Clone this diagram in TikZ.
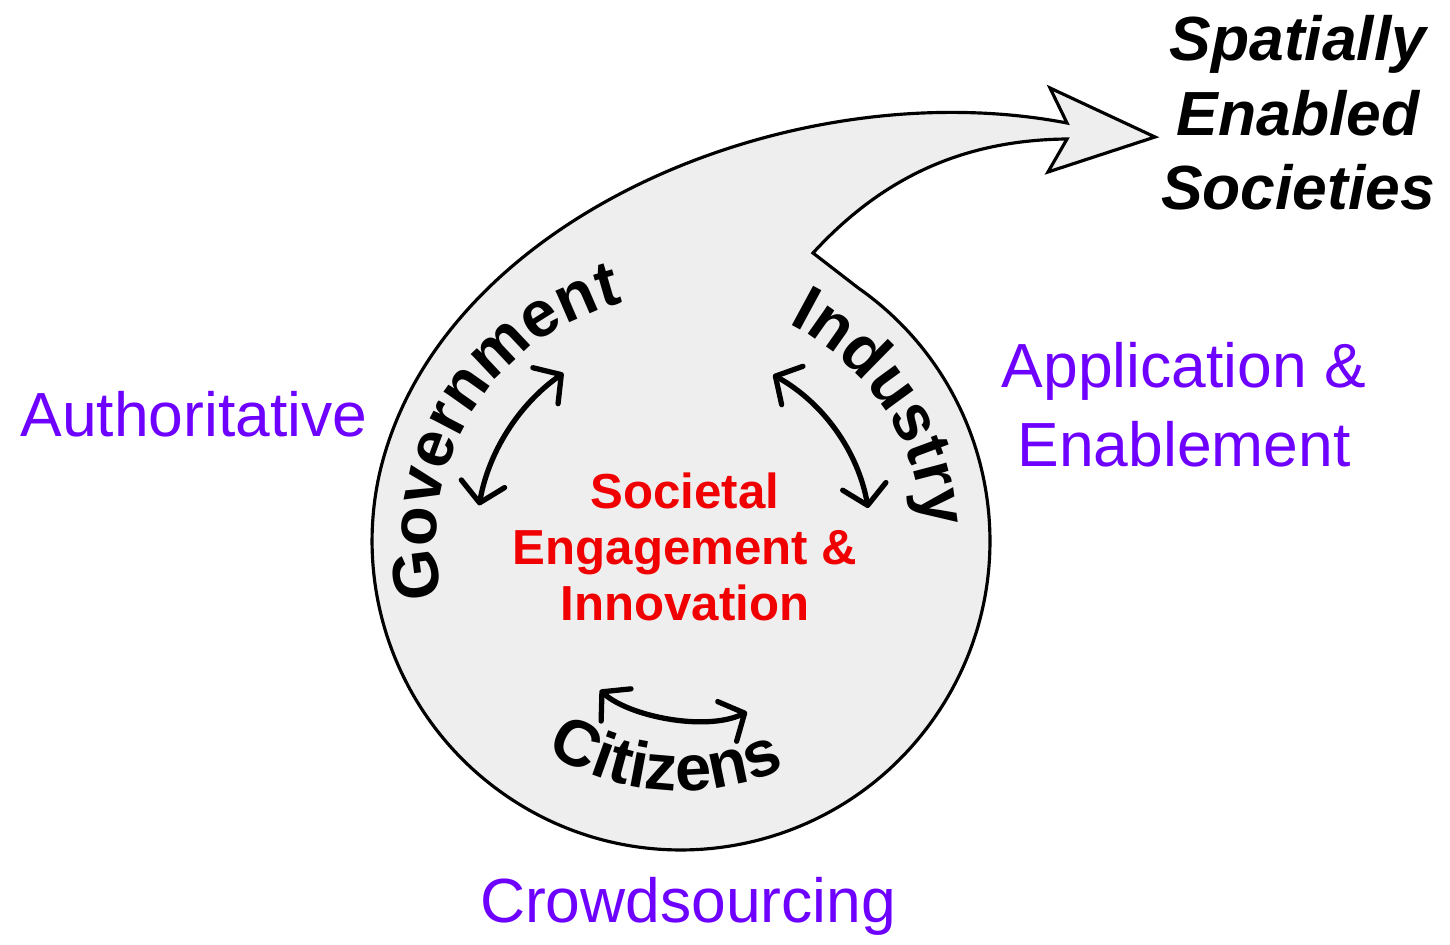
\documentclass[tikz,border=0pt]{standalone}
\usepackage{fontspec}
\setmainfont{Liberation Sans}
\usetikzlibrary{arrows.meta,decorations.text}
\definecolor{shapefill}{RGB}{238,238,238}
\definecolor{labelpurple}{RGB}{110,0,255}
\definecolor{corered}{RGB}{240,0,0}
\begin{document}
\begin{tikzpicture}[x=0.02cm,y=0.02cm,
  blob/.style={draw=black, line width=1.8pt, fill=shapefill, line join=miter},
  dblarrow/.style={line width=3pt, line cap=round,
    {Straight Barb[length=11pt,width=25pt,round]}-{Straight Barb[length=11pt,width=25pt,round]}},
  outerlabel/.style={text=labelpurple, font=\fontsize{35.5}{45.4}\selectfont, align=center, anchor=base, inner sep=0pt},
  goallabel/.style={text=black, font=\fontsize{35.5}{42.5}\selectfont\bfseries\itshape, align=center, anchor=base, inner sep=0pt},
  corelabel/.style={text=corered, font=\fontsize{28}{31.8}\selectfont\bfseries, align=center, anchor=base, inner sep=0pt},
  arclabel/.style={decorate, decoration={text along path, text align=center, text={#1}}}
]
\useasboundingbox (0,0) rectangle (1450,-945);

\coordinate (C) at (681,-541);
\coordinate (notch) at (813,-253);
\coordinate (neckup) at (1067,-123);
\coordinate (barbup) at (1050,-88);
\coordinate (tip) at (1155,-137);
\coordinate (barblow) at (1048,-172);
\coordinate (necklow) at (1067,-139);

% teardrop arrow shape
\path[blob] (notch) -- ([shift={(55:6.18cm)}]C)
  arc[start angle=55, end angle=-192, radius=6.18cm]
  .. controls (435,-220) and (790,-70) .. (neckup)
  -- (barbup) -- (tip) -- (barblow) -- (necklow)
  .. controls (960,-140) and (880,-180) .. (notch) -- cycle;

% curved labels
\path[arclabel={|\fontsize{37}{44}\selectfont\bfseries|Government}]
  ([shift={(208.5:4.9cm)}]C) arc[start angle=208.5, end angle=88.5, radius=4.9cm];
\path[arclabel={|\fontsize{37}{44}\selectfont\bfseries|Industry}]
  ([shift={(93.5:4.85cm)}]C) arc[start angle=93.5, end angle=-26.5, radius=4.85cm];
\path[arclabel={|\fontsize{37}{44}\selectfont\bfseries|Citizens}]
  ([shift={(206:5.0cm)}]C) arc[start angle=206, end angle=326, radius=5.0cm];

% double arrows
\draw[dblarrow] ([shift={(170:4.1cm)}]C) arc[start angle=170, end angle=125, radius=4.1cm];
\draw[dblarrow] ([shift={(61:3.8cm)}]C) arc[start angle=61, end angle=10, radius=3.8cm];
\coordinate (citL) at (600,-690);
\coordinate (citR) at (747,-712);
\draw[dblarrow] (citL) .. controls (628,-716) and (705,-732) .. (citR);

% centre text (anchor at baseline of last line)
\node[corelabel] (core) at (685,-620) {Societal\\Engagement \&\\Innovation};

% outer labels
\node[outerlabel] (auth) at (194,-437) {Authoritative};
\node[outerlabel] (appl) at (1184,-467) {Application \&\\Enablement};
\node[outerlabel] (crowd) at (688,-922) {Crowdsourcing};
\node[goallabel] (goal) at (1298,-210) {Spatially\\Enabled\\Societies};
\end{tikzpicture}
\end{document}
